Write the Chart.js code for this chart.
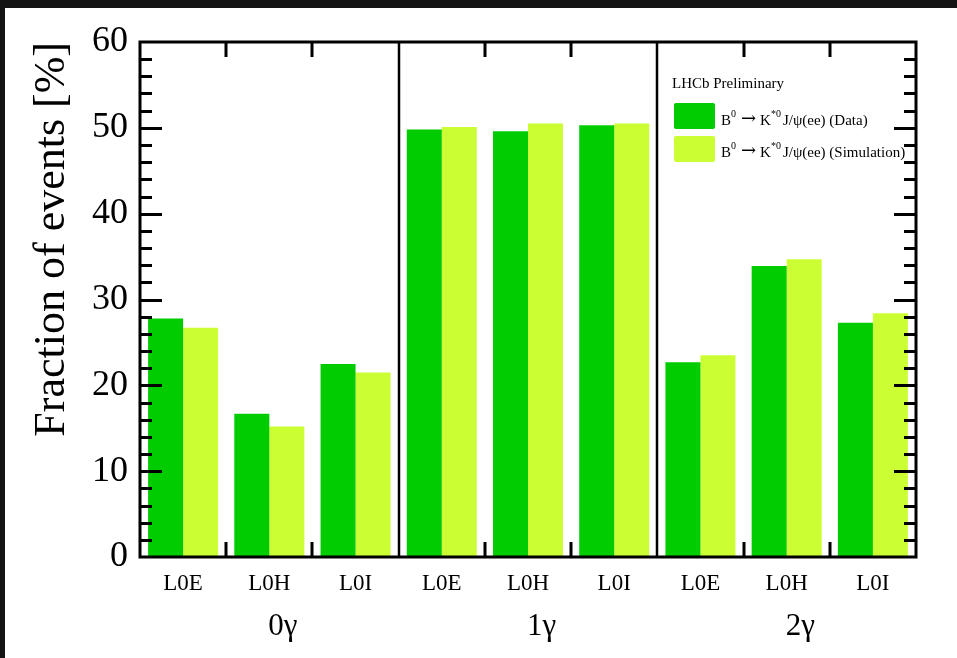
<!DOCTYPE html>
<html>
<head>
<meta charset="utf-8">
<script src="https://cdn.jsdelivr.net/npm/chart.js@4"></script>
<style>
  html, body { margin: 0; padding: 0; background: #141414; }
  canvas { display: block; }
</style>
</head>
<body>
<canvas id="c" width="957" height="658"></canvas>
<script>
// Trigger categories (three per photon multiplicity group)
const categories = ['L0E', 'L0H', 'L0I', 'L0E', 'L0H', 'L0I', 'L0E', 'L0H', 'L0I'];
const groups = ['0\u03b3', '1\u03b3', '2\u03b3'];
const seriesNames = ['Data', 'Simulation'];

// Fraction of events [%]
const dataValues = [27.8, 16.7, 22.5, 49.8, 49.6, 50.3, 22.7, 33.9, 27.3];
const simValues  = [26.7, 15.2, 21.5, 50.1, 50.5, 50.5, 23.5, 34.7, 28.4];

const yTitle = 'Fraction of events [%]';
const watermark = 'LHCb Preliminary';

const DATA_COLOR = '#00cc00';
const SIM_COLOR = '#ccff33';
const SERIF = '"Liberation Serif", "DejaVu Serif", serif';

// decay label with superscripts: B^0 -> K^*0 J/psi(ee) (name)
function drawDecay(ctx, x, y, name) {
  const main = '15px ' + SERIF;
  const sup = '10px ' + SERIF;
  const arrow = '18px "DejaVu Serif", serif';
  const parts = [
    ['B', main, 0, 0], ['0', sup, -8, 5], ['\u2192', arrow, -1, 4], ['K', main, 0, 0], ['*0', sup, -8, 2],
    ['J/\u03c8(ee) (' + name + ')', main, 0, 0]
  ];
  ctx.textAlign = 'left';
  ctx.textBaseline = 'alphabetic';
  let cx = x;
  for (const [t, f, dy, gap] of parts) {
    ctx.font = f;
    ctx.fillText(t, cx, y + dy);
    cx += ctx.measureText(t).width + gap;
  }
}

const framePlugin = {
  id: 'frame',
  beforeDraw(chart) {
    const ctx = chart.ctx;
    ctx.save();
    ctx.fillStyle = '#141414';
    ctx.fillRect(0, 0, chart.width, chart.height);
    ctx.fillStyle = '#ffffff';
    ctx.fillRect(5, 8, chart.width - 5, chart.height - 8);
    ctx.restore();
  },
  afterDatasetsDraw(chart) {
    const ctx = chart.ctx;
    const a = chart.chartArea;
    const xs = chart.scales.x;
    const ys = chart.scales.y;
    ctx.save();
    ctx.strokeStyle = '#000';
    ctx.lineCap = 'butt';

    // y ticks on both sides, minor every 2 units
    ctx.lineWidth = 3;
    for (let v = 2; v < 60; v += 2) {
      const y = Math.round(ys.getPixelForValue(v)) + 0.5;
      const len = v % 10 === 0 ? 22 : 12;
      ctx.beginPath();
      ctx.moveTo(a.left, y); ctx.lineTo(a.left + len, y);
      ctx.moveTo(a.right, y); ctx.lineTo(a.right - len, y);
      ctx.stroke();
    }

    // bin edges: ticks inside, full separators between groups
    for (let i = 1; i < categories.length; i++) {
      const x = Math.round((xs.getPixelForValue(i - 1) + xs.getPixelForValue(i)) / 2);
      ctx.beginPath();
      if (i % 3 === 0) {
        ctx.lineWidth = 2.5;
        ctx.moveTo(x, a.top); ctx.lineTo(x, a.bottom);
      } else {
        ctx.lineWidth = 3;
        ctx.moveTo(x, a.top); ctx.lineTo(x, a.top + 15);
        ctx.moveTo(x, a.bottom); ctx.lineTo(x, a.bottom - 15);
      }
      ctx.stroke();
    }

    // frame
    ctx.lineWidth = 3;
    ctx.strokeRect(a.left, a.top, a.right - a.left, a.bottom - a.top);
    ctx.restore();
  },
  afterDraw(chart) {
    const ctx = chart.ctx;
    const xs = chart.scales.x;
    ctx.save();
    ctx.fillStyle = '#000';

    // category labels
    ctx.font = '23px ' + SERIF;
    ctx.textAlign = 'center';
    ctx.textBaseline = 'alphabetic';
    categories.forEach((c, i) => ctx.fillText(c, xs.getPixelForValue(i), 590));

    // group labels
    ctx.font = '31px ' + SERIF;
    ctx.textAlign = 'left';
    groups.forEach((g, k) => ctx.fillText(g, xs.getPixelForValue(3 * k + 1) - 1, 635));

    // legend
    ctx.font = '15px ' + SERIF;
    ctx.fillText(watermark, 672, 88);
    const colors = [DATA_COLOR, SIM_COLOR];
    const boxY = [103, 136];
    const textY = [125, 157];
    seriesNames.forEach((n, k) => {
      ctx.fillStyle = colors[k];
      ctx.beginPath();
      ctx.roundRect(674, boxY[k], 41, 26, 2);
      ctx.fill();
      ctx.fillStyle = '#000';
      drawDecay(ctx, 721, textY[k], n);
    });
    ctx.restore();
  }
};

new Chart(document.getElementById('c'), {
  type: 'bar',
  data: {
    labels: categories,
    datasets: [
      { label: seriesNames[0], data: dataValues, backgroundColor: DATA_COLOR, borderWidth: 0,
        categoryPercentage: 0.812, barPercentage: 1.0 },
      { label: seriesNames[1], data: simValues, backgroundColor: SIM_COLOR, borderWidth: 0,
        categoryPercentage: 0.812, barPercentage: 1.0 }
    ]
  },
  options: {
    responsive: false,
    animation: false,
    devicePixelRatio: 1,
    layout: { padding: { top: 42, right: 41, left: 0, bottom: 0 } },
    plugins: { legend: { display: false }, tooltip: { enabled: false } },
    scales: {
      x: {
        grid: { display: false, drawTicks: false },
        border: { display: false },
        ticks: { display: false },
        afterFit(scale) { scale.height = 101; }
      },
      y: {
        min: 0, max: 60,
        grid: { display: false, drawTicks: false },
        border: { display: false },
        ticks: { stepSize: 10, color: '#000', padding: 12, font: { family: SERIF, size: 36 } },
        title: {
          display: true, text: yTitle, align: 'end', color: '#000',
          font: { family: SERIF, size: 44 }, padding: { top: 26, bottom: 0 }
        },
        afterFit(scale) { scale.width = 140; }
      }
    }
  },
  plugins: [framePlugin]
});
</script>
</body>
</html>
